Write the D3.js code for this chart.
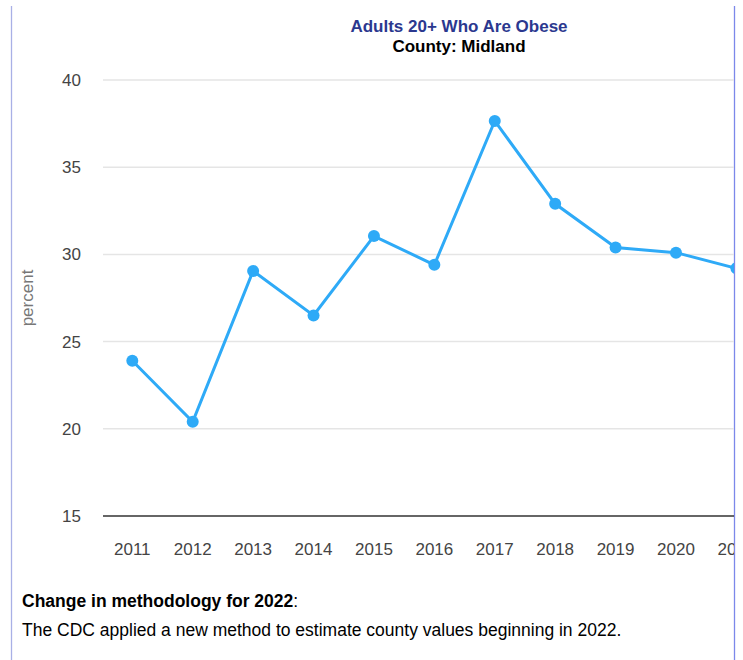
<!DOCTYPE html>
<html>
<head>
<meta charset="utf-8">
<script src="https://cdn.jsdelivr.net/npm/d3@7"></script>
<style>
  body { margin: 0; background: #fff; font-family: "Liberation Sans", Arial, sans-serif; }
</style>
</head>
<body>
<svg id="demo" width="743" height="660"></svg>
<script>
// datos
var years = ["2011", "2012", "2013", "2014", "2015", "2016", "2017", "2018", "2019", "2020", "2021"];
var values = [23.9, 20.4, 29.05, 26.5, 31.05, 29.4, 37.65, 32.9, 30.4, 30.1, 29.2];
var yTicks = [15, 20, 25, 30, 35, 40];

var svg = d3.select("#demo");

// escalas
var step = 60.41;
var xScale = d3.scalePoint().domain(years).range([132.3, 132.3 + step * (years.length - 1)]);
var yScale = d3.scaleLinear().domain([15, 40]).range([516, 80]);

// bordes del panel
svg.append("line").attr("x1", 11.5).attr("x2", 11.5).attr("y1", 6).attr("y2", 660)
    .attr("stroke", "#a9b0e6").attr("stroke-width", 1.3);
svg.append("line").attr("x1", 734.5).attr("x2", 734.5).attr("y1", 6).attr("y2", 660)
    .attr("stroke", "#7c88ea").attr("stroke-width", 1.3);

// titulos
svg.append("text").attr("x", 459).attr("y", 32).attr("text-anchor", "middle")
    .attr("font-size", 17).attr("font-weight", "bold").attr("fill", "#2b388f")
    .text("Adults 20+ Who Are Obese");
svg.append("text").attr("x", 459).attr("y", 52).attr("text-anchor", "middle")
    .attr("font-size", 17).attr("font-weight", "bold").attr("fill", "#000")
    .text("County: Midland");

// area recortada
svg.append("clipPath").attr("id", "clip")
    .append("rect").attr("x", 0).attr("y", 0).attr("width", 734).attr("height", 660);
var g = svg.append("g").attr("clip-path", "url(#clip)");

// rejilla
yTicks.forEach(function (t) {
    g.append("line")
        .attr("x1", 103).attr("x2", 743)
        .attr("y1", yScale(t)).attr("y2", yScale(t))
        .attr("stroke", t === 15 ? "#333" : "#e5e5e5")
        .attr("stroke-width", 1.5);
    svg.append("text")
        .attr("x", 81).attr("y", yScale(t) + 6)
        .attr("text-anchor", "end")
        .attr("font-size", 17).attr("fill", "#444")
        .text(t);
});

// etiquetas eje x
years.forEach(function (yr) {
    g.append("text")
        .attr("x", xScale(yr)).attr("y", 555)
        .attr("text-anchor", "middle")
        .attr("font-size", 17).attr("fill", "#444")
        .text(yr);
});

// titulo eje y
svg.append("text")
    .attr("transform", "translate(33,298) rotate(-90)")
    .attr("text-anchor", "middle")
    .attr("font-size", 17).attr("fill", "#777")
    .text("percent");

// linea y puntos
var line = d3.line()
    .x(function (d, i) { return xScale(years[i]); })
    .y(function (d) { return yScale(d); });

g.append("path")
    .attr("d", line(values))
    .attr("fill", "none")
    .attr("stroke", "#2eaaf7")
    .attr("stroke-width", 3);

g.selectAll("circle").data(values).enter().append("circle")
    .attr("cx", function (d, i) { return xScale(years[i]); })
    .attr("cy", function (d) { return yScale(d); })
    .attr("r", 6)
    .attr("fill", "#2eaaf7");

// nota al pie
var note = svg.append("text").attr("x", 22).attr("y", 607)
    .attr("font-size", 17.5).attr("fill", "#000");
note.append("tspan").attr("font-weight", "bold").text("Change in methodology for 2022");
note.append("tspan").text(":");
svg.append("text").attr("x", 22).attr("y", 636)
    .attr("font-size", 17.5).attr("fill", "#000")
    .text("The CDC applied a new method to estimate county values beginning in 2022.");
</script>
</body>
</html>
